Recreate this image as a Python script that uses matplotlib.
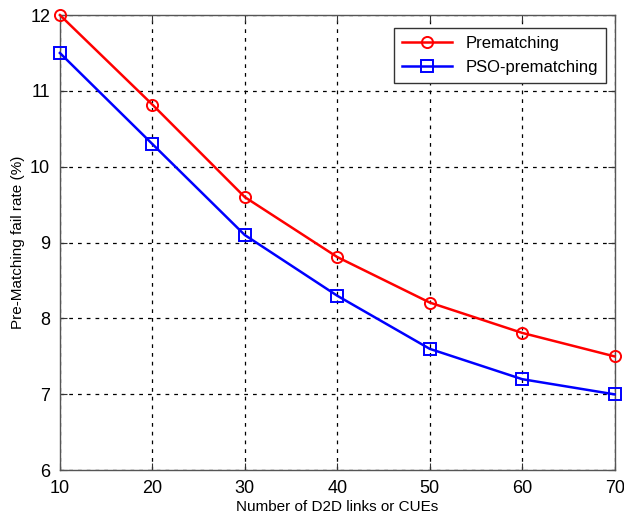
import matplotlib
matplotlib.use("Agg")
import matplotlib.pyplot as plt

plt.rcParams["font.family"] = ["Liberation Sans", "DejaVu Sans"]

links = [10, 20, 30, 40, 50, 60, 70]
prematching = [12.0, 10.82, 9.6, 8.81, 8.21, 7.81, 7.5]
pso_prematching = [11.5, 10.3, 9.1, 8.3, 7.6, 7.2, 7.0]
x_ticks = [10, 20, 30, 40, 50, 60, 70]
y_ticks = [6, 7, 8, 9, 10, 11, 12]

fig = plt.figure(figsize=(6.24, 5.19), dpi=100)
ax = fig.add_axes([0.096, 0.094, 0.889, 0.877])

ax.plot(links, prematching, color="#ff0000", linewidth=1.8, marker="o",
        markersize=8, markerfacecolor="none", markeredgewidth=1.4,
        label="Prematching", clip_on=False, zorder=3)
ax.plot(links, pso_prematching, color="#0000ff", linewidth=1.8, marker="s",
        markersize=8, markerfacecolor="none", markeredgewidth=1.4,
        label="PSO-prematching", clip_on=False, zorder=3)

ax.set_xlim(10, 70)
ax.set_ylim(6, 12)
ax.set_xticks(x_ticks)
ax.set_yticks(y_ticks)
ax.tick_params(direction="in", labelsize=13, length=5, color="#333333",
               top=True, right=True)
ax.tick_params(axis="x", pad=7)
ax.tick_params(axis="y", pad=7)
ax.grid(True, color="black", linestyle=(0, (3, 4)), linewidth=0.9)
for s in ax.spines.values():
    s.set_color("#555555")
    s.set_linewidth(1.0)

ax.set_xlabel("Number of D2D links or CUEs", fontsize=11, labelpad=2)
ax.set_ylabel("Pre-Matching fail rate (%)", fontsize=11, labelpad=4)

leg = ax.legend(loc="upper right", fontsize=12, fancybox=False,
                framealpha=1, edgecolor="#333333", handlelength=3,
                borderpad=0.5, bbox_to_anchor=(1.0, 0.99))
leg.get_frame().set_linewidth(1.0)

fig.savefig("out.png", dpi=100)
